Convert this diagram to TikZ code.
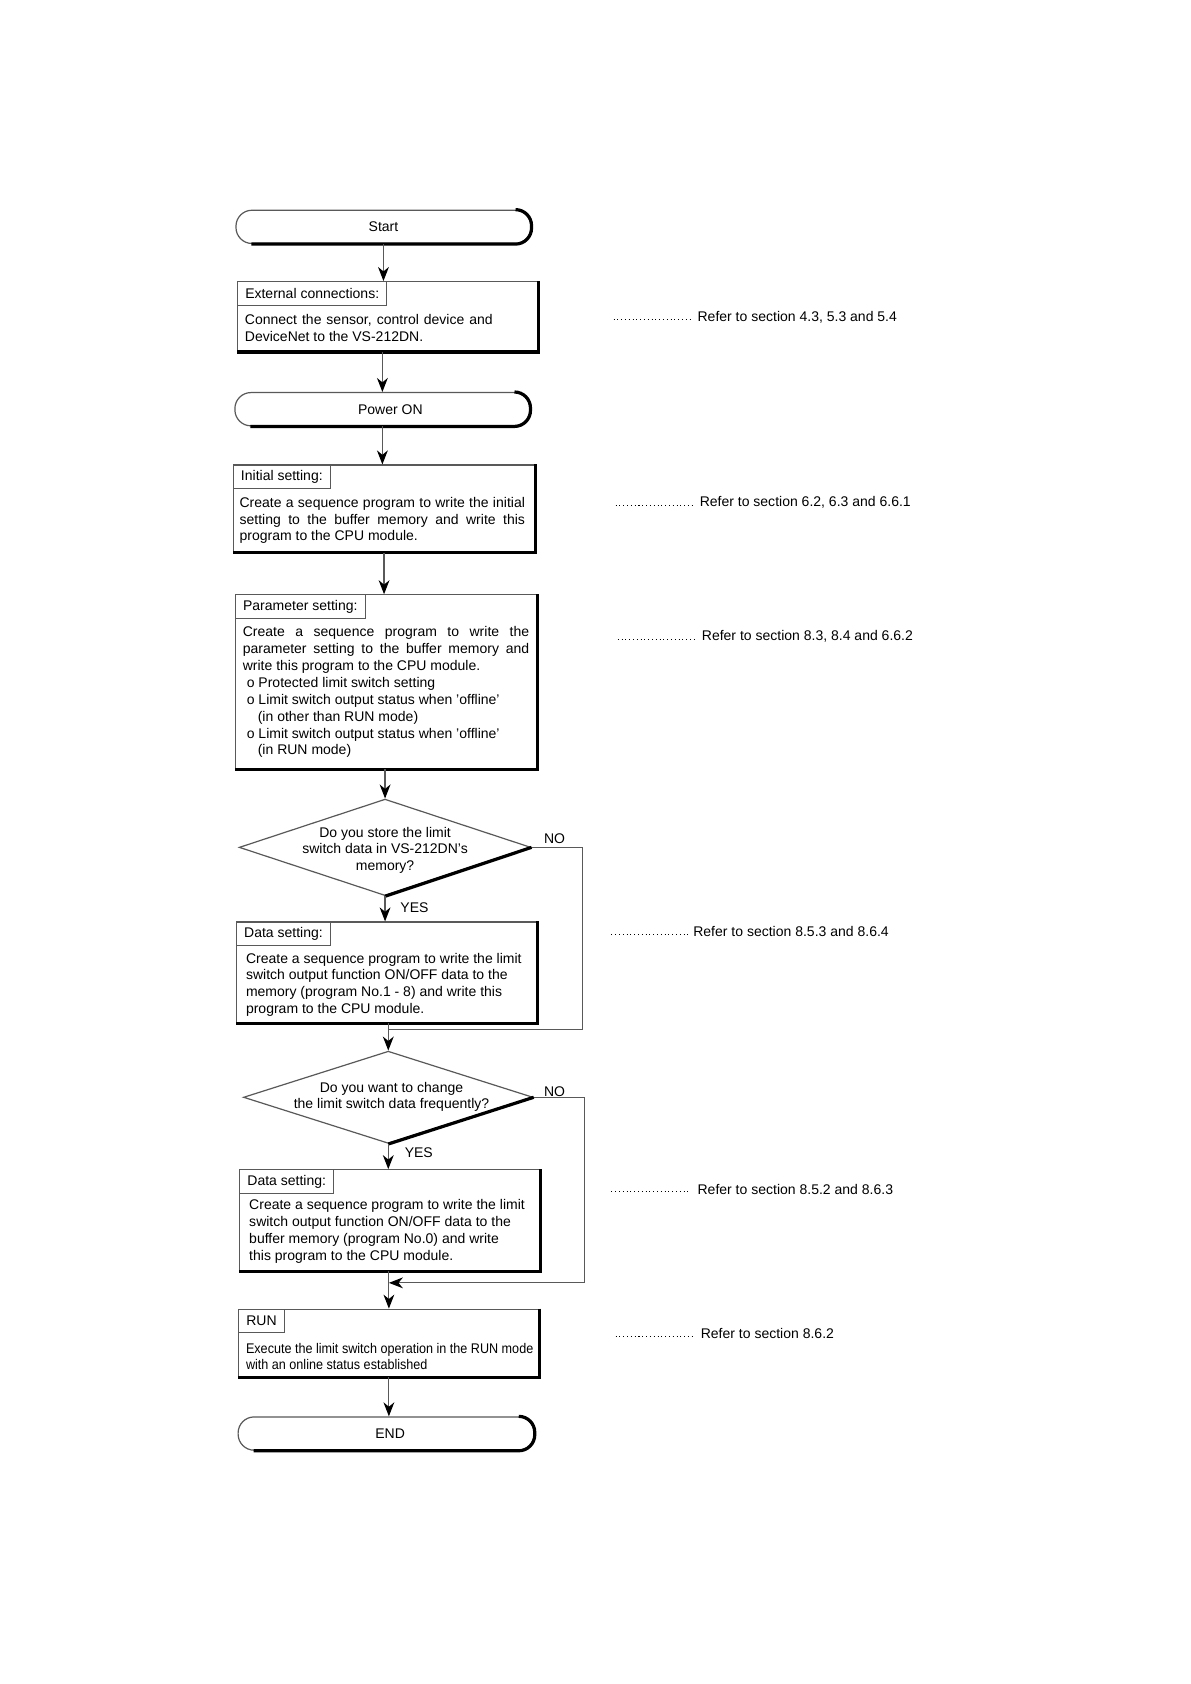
\documentclass[tikz,border=0pt]{standalone}
\usepackage{fontspec}
\setmainfont{Liberation Sans}
\newfontfamily\condfont[FakeStretch=0.9]{Liberation Sans}
\usetikzlibrary{arrows.meta,shapes.geometric,calc}
\newcommand\pxu{0.536pt}
\begin{document}
\begin{tikzpicture}[x=0.536pt,y=-0.536pt,
  thinline/.style={draw=black!65, line width=0.6pt},
  box/.style={thinline, rectangle, inner sep=0pt, anchor=north west},
  tab/.style={thinline, rectangle, inner xsep=3.8pt, inner ysep=0pt, minimum height=22*\pxu, anchor=north west, font=\fontsize{7}{8.4}\selectfont},
  body/.style={inner sep=0pt, anchor=north west, align=left, font=\fontsize{7}{8.42}\selectfont},
  term/.style={thinline, rectangle, rounded corners=8pt, inner sep=0pt, minimum height=31*\pxu, font=\fontsize{7}{8.4}\selectfont},
  shadowline/.style={draw=black, line width=1.6pt},
  arr/.style={draw=black!65, line width=0.6pt, -{Stealth[length=7pt,width=5.4pt,inset=2.2pt,color=black]}},
  loopline/.style={draw=black!65, line width=0.6pt},
  dec/.style={thinline, diamond, inner sep=0pt},
  lab/.style={inner sep=0pt, font=\fontsize{7}{8.3}\selectfont},
  leader/.style={draw=black, line width=0.5pt, dash pattern=on 0.5pt off 1.4pt},
]
\useasboundingbox[fill=white] (0,0) rectangle (1110,1570);

% Terminals
\node[term, minimum width=275*\pxu] (start) at (357.5,211.5) {\raisebox{-0.6pt}{Start}};
\draw[shadowline, rounded corners=8pt] ([xshift=8pt]start.south west) -- (start.south east) -- (start.north east) -- ([xshift=-8pt]start.north east);

\node[term, minimum width=275*\pxu] (pwr) at (356.5,381.5) {\hspace*{8pt}\raisebox{-0.6pt}{Power ON}};
\draw[shadowline, rounded corners=8pt] ([xshift=8pt]pwr.south west) -- (pwr.south east) -- (pwr.north east) -- ([xshift=-8pt]pwr.north east);

\node[term, minimum width=276*\pxu] (endt) at (360,1336.5) {\hspace*{4pt}\raisebox{-0.6pt}{END}};
\draw[shadowline, rounded corners=8pt] ([xshift=8pt]endt.south west) -- (endt.south east) -- (endt.north east) -- ([xshift=-8pt]endt.north east);

% External connections
\node[box, minimum width=280*\pxu, minimum height=65*\pxu] (ext) at (221,262) {};
\draw[shadowline] (ext.north east) -- (ext.south east) -- (ext.south west);
\node[tab] (extt) at (ext.north west) {External connections:};
\node[body] (extb) at (228,293) {\makebox[123.8pt][s]{Connect the sensor, control device and}\\DeviceNet to the VS-212DN.};

% Initial setting
\node[box, minimum width=281*\pxu, minimum height=81*\pxu] (init) at (217,433) {};
\draw[shadowline] (init.north east) -- (init.south east) -- (init.south west);
\node[tab] (initt) at (init.north west) {Initial setting:};
\node[body] (initb) at (223,463) {\makebox[142.6pt][s]{Create a sequence program to write the initial}\\
\makebox[142.6pt][s]{setting to the buffer memory and write this}\\program to the CPU module.};

% Parameter setting
\node[box, minimum width=281*\pxu, minimum height=162*\pxu] (param) at (219,554) {};
\draw[shadowline] (param.north east) -- (param.south east) -- (param.south west);
\node[tab] (paramt) at (param.north west) {Parameter setting:};
\node[body] (paramb) at (226,584) {\makebox[143.1pt][s]{Create a sequence program to write the}\\
\makebox[143.1pt][s]{parameter setting to the buffer memory and}\\
write this program to the CPU module.\\
\hspace*{2pt}o Protected limit switch setting\\
\hspace*{2pt}o Limit switch output status when 'offline'\\
\hspace*{7.5pt}(in other than RUN mode)\\
\hspace*{2pt}o Limit switch output status when 'offline'\\
\hspace*{7.5pt}(in RUN mode)};

% Decision 1
\node[dec, minimum width=272*\pxu, minimum height=90*\pxu] (d1) at (359,790) {};
\draw[shadowline] (d1.east) -- (d1.south);
\node[lab, align=center] (d1t) at (359,792.5) {Do you store the limit\\switch data in VS-212DN's\\memory?};

% Data setting 1
\node[box, minimum width=280*\pxu, minimum height=94*\pxu] (data1) at (220,859) {};
\draw[shadowline] (data1.north east) -- (data1.south east) -- (data1.south west);
\node[tab] (data1t) at (data1.north west) {Data setting:};
\node[body] (data1b) at (229,888) {Create a sequence program to write the limit\\
switch output function ON/OFF data to the\\
memory (program No.1 - 8) and write this\\
program to the CPU module.};

% Decision 2
\node[dec, minimum width=270*\pxu, minimum height=86*\pxu] (d2) at (362,1023) {};
\draw[shadowline] (d2.east) -- (d2.south);
\node[lab, align=center] (d2t) at (365,1022.5) {Do you want to change\\the limit switch data frequently?};

% Data setting 2
\node[box, minimum width=280*\pxu, minimum height=94*\pxu] (data2) at (223,1090) {};
\draw[shadowline] (data2.north east) -- (data2.south east) -- (data2.south west);
\node[tab] (data2t) at (data2.north west) {Data setting:};
\node[body] (data2b) at (232,1118) {Create a sequence program to write the limit\\
switch output function ON/OFF data to the\\
buffer memory (program No.0) and write\\
this program to the CPU module.};

% RUN
\node[box, minimum width=280*\pxu, minimum height=63*\pxu] (run) at (222,1220) {};
\draw[shadowline] (run.north east) -- (run.south east) -- (run.south west);
\node[tab] (runt) at (run.north west) {RUN};
\node[body, font=\condfont\fontsize{7}{8.1}\selectfont] (runb) at (229,1252) {Execute the limit switch operation in the RUN mode\\with an online status established};

% Main flow arrows
\draw[arr] (start.south) -- (start.south |- ext.north);
\draw[arr] (ext.south -| pwr.north) -- (pwr.north);
\draw[arr] (pwr.south) -- (pwr.south |- init.north);
\draw[arr] (init.south) -- (init.south |- param.north);
\draw[arr] (param.south -| d1.north) -- (d1.north);
\draw[arr] (d1.south) -- (d1.south |- data1.north);
\draw[arr] (data1.south -| d2.north) -- (d2.north);
\draw[arr] (d2.south) -- (d2.south |- data2.north);
\draw[arr] (data2.south -| run.north) -- (run.north);
\draw[arr] (run.south) -- (run.south |- endt.north);

% NO branches
\coordinate (j1) at (543,960);
\draw[loopline] (d1.east) -| (j1) -- (j1 -| d2.north);
\coordinate (j2) at (545,1196);
\draw[arr] (d2.east) -| (j2) -- (j2 -| run.north);

% Labels
\node[lab, anchor=west] (yes1) at (373,846) {YES};
\node[lab] (no1) at (517,782) {NO};
\node[lab, anchor=west] (yes2) at (377,1075) {YES};
\node[lab] (no2) at (517,1018) {NO};

% References
\node[lab, anchor=west] (r1) at (650,295.5) {Refer to section 4.3, 5.3 and 5.4};
\node[lab, anchor=west] (r2) at (652,468.5) {Refer to section 6.2, 6.3 and 6.6.1};
\node[lab, anchor=west] (r3) at (654,593.5) {Refer to section 8.3, 8.4 and 6.6.2};
\node[lab, anchor=west] (r4) at (646,868.5) {Refer to section 8.5.3 and 8.6.4};
\node[lab, anchor=west] (r5) at (650,1108.5) {Refer to section 8.5.2 and 8.6.3};
\node[lab, anchor=west] (r6) at (653,1243.5) {Refer to section 8.6.2};
\coordinate (l1) at (572,298);
\coordinate (l2) at (574,471);
\coordinate (l3) at (576,596);
\coordinate (l4) at (570,871);
\coordinate (l5) at (570,1111);
\coordinate (l6) at (574,1246);
\draw[leader, shorten >=3.6pt] (l1) -- (l1 -| r1.west);
\draw[leader, shorten >=3.6pt] (l2) -- (l2 -| r2.west);
\draw[leader, shorten >=3.6pt] (l3) -- (l3 -| r3.west);
\draw[leader, shorten >=2.5pt] (l4) -- (l4 -| r4.west);
\draw[leader, shorten >=3.6pt] (l5) -- (l5 -| r5.west);
\draw[leader, shorten >=3.6pt] (l6) -- (l6 -| r6.west);
\end{tikzpicture}
\end{document}
